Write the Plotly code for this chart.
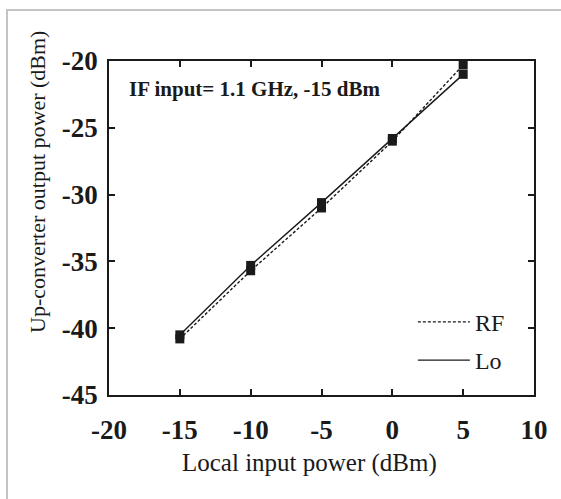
import plotly.graph_objects as go

# Local oscillator input power (dBm)
local_power = [-15, -10, -5, 0, 5]
# Up-converter output power (dBm) for each output
rf_output = [-40.8, -35.7, -31.0, -26.0, -20.3]
lo_output = [-40.5, -35.3, -30.6, -25.8, -21.0]

x_ticks = [-20, -15, -10, -5, 0, 5, 10]
y_ticks = [-20, -25, -30, -35, -40, -45]

SERIF = "Liberation Serif, Times New Roman, serif"
INK = "#1a1a1a"

fig = go.Figure()

# Lines (shown in legend)
fig.add_trace(go.Scatter(x=local_power, y=rf_output, mode="lines", name="RF", legendgroup="rf",
                         line=dict(color=INK, width=1.4, dash="3px,2px")))
fig.add_trace(go.Scatter(x=local_power, y=lo_output, mode="lines", name="Lo", legendgroup="lo",
                         line=dict(color=INK, width=1.4)))
# Square markers at the measured points
fig.add_trace(go.Scatter(x=local_power, y=rf_output, mode="markers", showlegend=False,
                         marker=dict(symbol="square", size=9, color=INK)))
fig.add_trace(go.Scatter(x=local_power, y=lo_output, mode="markers", showlegend=False,
                         marker=dict(symbol="square", size=9, color=INK)))

axis_common = dict(
    showgrid=False, zeroline=False, showline=True, linecolor=INK, linewidth=1.5,
    mirror="ticks", ticks="inside", ticklen=6, tickwidth=1.5, tickcolor=INK,
    tickfont=dict(family=SERIF, size=27, color=INK, weight="bold"),
)

fig.update_xaxes(range=[-20, 10], tickvals=x_ticks, ticktext=[str(v) for v in x_ticks],
                 ticklabelstandoff=10, **axis_common)
fig.update_yaxes(range=[-45, -20], tickvals=y_ticks, ticktext=[str(v) for v in y_ticks],
                 ticklabelstandoff=4, **axis_common)

fig.update_layout(
    width=561, height=499,
    margin=dict(l=109, r=27, t=61, b=104),
    paper_bgcolor="white", plot_bgcolor="white",
    showlegend=True,
    legend=dict(x=0.715, y=0.285, xanchor="left", yanchor="top",
                bgcolor="rgba(0,0,0,0)", font=dict(family=SERIF, size=24, color=INK),
                itemwidth=52, tracegroupgap=4),
    annotations=[
        dict(text="<b>IF input= 1.1 GHz, -15 dBm</b>", xref="paper", yref="paper",
             x=0.043, y=0.915, xanchor="left", yanchor="middle", showarrow=False,
             font=dict(family=SERIF, size=21, color=INK)),
        dict(text="Local input power (dBm)", xref="paper", yref="paper",
             x=(309 - 109) / 425, y=-(463 - 395) / 334, xanchor="center", yanchor="middle",
             showarrow=False, font=dict(family=SERIF, size=25, color=INK)),
        dict(text="Up-converter output power (dBm)", xref="paper", yref="paper",
             x=(37 - 109) / 425, y=(395 - 182) / 334, xanchor="center", yanchor="middle",
             textangle=-90, showarrow=False, font=dict(family=SERIF, size=22, color=INK)),
    ],
    shapes=[
        # light frame around the figure
        dict(type="rect", xref="paper", yref="paper",
             x0=(7 - 109) / 425, x1=2.0, y0=-2.0, y1=(395 - 10) / 334,
             line=dict(color="#c4c4c4", width=2), layer="below"),
    ],
)

fig.write_html("out.html")
